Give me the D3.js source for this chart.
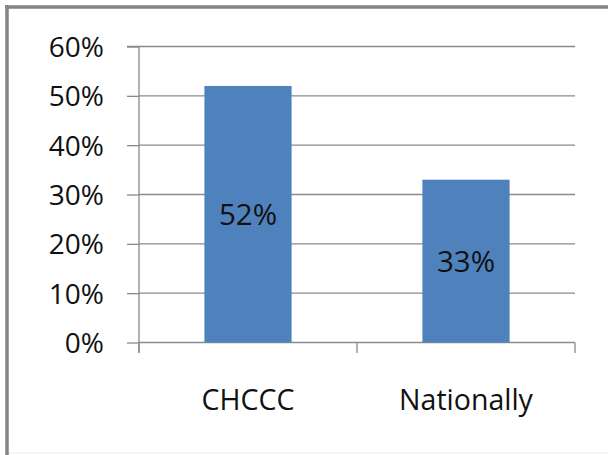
<!DOCTYPE html>
<html>
<head>
<meta charset="utf-8">
<script src="https://cdn.jsdelivr.net/npm/d3@7"></script>
<style>
  html, body { margin: 0; padding: 0; background: #fff; }
  svg { display: block; }
  text { font-family: "Open Sans", "Noto Sans", sans-serif; fill: #111; }
</style>
</head>
<body>
<svg id="chart" width="608" height="455"></svg>
<script>
// Share of respondents, by group
const categories = ["CHCCC", "Nationally"];
const values = [52, 33];
const tickValues = [0, 10, 20, 30, 40, 50, 60];

const svg = d3.select("#chart");
const W = 608, H = 455;

// Outer frame
svg.append("rect").attr("x", 0).attr("y", 0).attr("width", W).attr("height", H).attr("fill", "#fff");
svg.append("line").attr("x1", 7).attr("x2", 7).attr("y1", 5).attr("y2", H)
  .attr("stroke", "#858585").attr("stroke-width", 3.5);
svg.append("line").attr("x1", 5).attr("x2", W).attr("y1", 7).attr("y2", 7)
  .attr("stroke", "#858585").attr("stroke-width", 3.5);
svg.append("line").attr("x1", 9).attr("x2", W).attr("y1", 453).attr("y2", 453)
  .attr("stroke", "#ececec").attr("stroke-width", 1);

const plot = { left: 139, right: 575, top: 46.5, bottom: 342.5 };

const x = d3.scaleBand()
  .domain(categories)
  .range([plot.left, plot.right])
  .paddingInner(0.6)
  .paddingOuter(0.3);

const y = d3.scaleLinear()
  .domain([0, 60])
  .range([plot.bottom, plot.top]);

const gridColor = "#8a8a8a";

// Horizontal gridlines
svg.append("g")
  .selectAll("line")
  .data(tickValues)
  .join("line")
  .attr("x1", plot.left)
  .attr("x2", plot.right)
  .attr("y1", d => y(d))
  .attr("y2", d => y(d))
  .attr("stroke", gridColor)
  .attr("stroke-width", 1.3);

// Y axis with outward ticks and percent labels
const yAxis = d3.axisLeft(y)
  .tickValues(tickValues)
  .tickSize(12)
  .tickPadding(23)
  .tickFormat(d => d + "%");

const gy = svg.append("g")
  .attr("transform", `translate(${plot.left},0)`)
  .call(yAxis);
gy.select(".domain").attr("stroke", gridColor).attr("stroke-width", 1.3)
  .attr("d", `M-12,${plot.top}H0V${plot.bottom + 10}`);
gy.selectAll(".tick line").attr("stroke", gridColor).attr("stroke-width", 1.3);
gy.selectAll(".tick text")
  .attr("font-family", "Open Sans, Noto Sans, sans-serif")
  .attr("font-size", 28)
  .attr("fill", "#111")
  .attr("dy", "0.36em");

// Category separators below the baseline
const bounds = [plot.left, (plot.left + plot.right) / 2, plot.right];
svg.append("g")
  .selectAll("line")
  .data(bounds)
  .join("line")
  .attr("x1", d => d).attr("x2", d => d)
  .attr("y1", plot.bottom).attr("y2", plot.bottom + 10.5)
  .attr("stroke", gridColor).attr("stroke-width", 1.3);

// Bars
svg.append("g")
  .selectAll("rect")
  .data(values)
  .join("rect")
  .attr("x", (d, i) => x(categories[i]))
  .attr("width", x.bandwidth())
  .attr("y", d => y(d))
  .attr("height", d => y(0) - y(d))
  .attr("fill", "#4f81bd");

// Value labels centred in each bar
svg.append("g")
  .selectAll("text")
  .data(values)
  .join("text")
  .attr("x", (d, i) => x(categories[i]) + x.bandwidth() / 2)
  .attr("y", d => (y(d) + y(0)) / 2 + 11)
  .attr("text-anchor", "middle")
  .attr("font-size", 29.5)
  .text(d => d + "%");

// Category labels
svg.append("g")
  .selectAll("text")
  .data(categories)
  .join("text")
  .attr("x", d => x(d) + x.bandwidth() / 2)
  .attr("y", 410)
  .attr("text-anchor", "middle")
  .attr("font-size", 28.5)
  .text(d => d);
</script>
</body>
</html>
